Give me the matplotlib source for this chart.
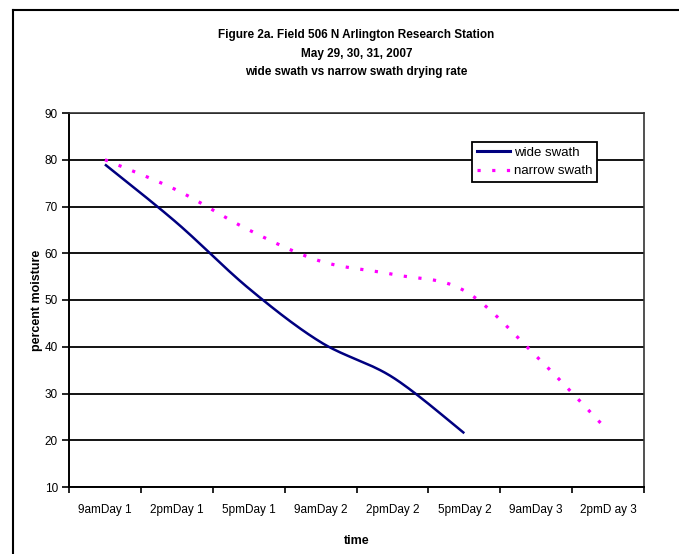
import numpy as np
import matplotlib
matplotlib.use("Agg")
import matplotlib.pyplot as plt
from matplotlib.lines import Line2D

plt.rcParams['font.family'] = ['Liberation Sans Narrow', 'Liberation Sans', 'DejaVu Sans']

times = ['9amDay 1', '2pmDay 1', '5pmDay 1', '9amDay 2', '2pmDay 2', '5pmDay 2', '9amDay 3', '2pmD ay 3']
wide_swath = [79, 66.5, 52.5, 41, 33.5, 21.5]
narrow_swath = [80, 73.5, 65, 58.3, 55.5, 52, 38, 22]
y_ticks = [10, 20, 30, 40, 50, 60, 70, 80, 90]


def smooth(vals, n=30):
    # Catmull-Rom curve through the points, like a smoothed spreadsheet line
    p = np.array(vals, dtype=float)
    x = np.arange(len(p), dtype=float)
    pts = np.column_stack([x, p])
    ext = np.vstack([pts[0], pts, pts[-1]])
    out = []
    for i in range(1, len(ext) - 2):
        p0, p1, p2, p3 = ext[i - 1], ext[i], ext[i + 1], ext[i + 2]
        t = np.linspace(0, 1, n)[:, None]
        seg = 0.5 * ((2 * p1) + (-p0 + p2) * t + (2 * p0 - 5 * p1 + 4 * p2 - p3) * t ** 2
                     + (-p0 + 3 * p1 - 3 * p2 + p3) * t ** 3)
        out.append(seg if i == len(ext) - 3 else seg[:-1])
    seg = np.vstack(out)
    return seg[:, 0], seg[:, 1]


fig = plt.figure(figsize=(6.79, 5.54), dpi=100)
ax = fig.add_axes([69 / 679, 1 - 487 / 554, 575 / 679, 374 / 554])

xw, yw = smooth(wide_swath)
xn, yn = smooth(narrow_swath)
ax.plot(xw, yw, color='#000080', lw=1.8, solid_capstyle='butt')
ax.plot(xn, yn, color='#FF00FF', lw=2.3, linestyle=(0, (1, 3.6)))

ax.set_xlim(-0.5, len(times) - 0.5)
ax.set_ylim(10, 90)
ax.set_yticks(y_ticks)
ax.yaxis.grid(True, color='black', lw=1.3)
ax.set_axisbelow(True)

ax.set_xticks(range(len(times)))
ax.set_xticklabels(times, fontsize=8.5)
ax.tick_params(axis='x', which='major', length=0, pad=12)
ax.set_xticks(np.arange(-0.5, len(times), 1), minor=True)
ax.tick_params(axis='x', which='minor', length=4, width=1.2, direction='out')
ax.tick_params(axis='y', length=5, width=1.2, labelsize=8.5, pad=3)

for s in ['left', 'bottom']:
    ax.spines[s].set_linewidth(1.4)
for s in ['right', 'top']:
    ax.spines[s].set_linewidth(1.2)
    ax.spines[s].set_color('#333333')

ax.set_xlabel('time', fontsize=9, fontweight='bold', labelpad=14)
ax.set_ylabel('percent moisture', fontsize=9, fontweight='bold', labelpad=1)

ax.set_title('Figure 2a. Field 506 N Arlington Research Station\nMay 29, 30, 31, 2007\n'
             'wide swath vs narrow swath drying rate',
             fontsize=8.5, fontweight='bold', linespacing=1.75, pad=27)

handles = [Line2D([], [], color='#000080', lw=2.2),
           Line2D([], [], color='#FF00FF', lw=2.3, linestyle=(0, (1, 3.6)))]
leg = ax.legend(handles, ['wide swath', 'narrow swath'], loc='upper left',
                bbox_to_anchor=(0.701, 0.922), frameon=True, fancybox=False,
                edgecolor='black', fontsize=9.5, handlelength=2.5, handletextpad=0.3,
                borderpad=0.35, labelspacing=0.45, borderaxespad=0)
leg.get_frame().set_linewidth(1.3)
leg.get_frame().set_alpha(1)

# outer chart frame
fig.add_artist(Line2D([13 / 679, 1], [1 - 10 / 554, 1 - 10 / 554], color='black', lw=1.5,
                      transform=fig.transFigure))
fig.add_artist(Line2D([13 / 679, 13 / 679], [0, 1 - 10 / 554], color='black', lw=1.5,
                      transform=fig.transFigure))

fig.savefig('out.png', dpi=100)
